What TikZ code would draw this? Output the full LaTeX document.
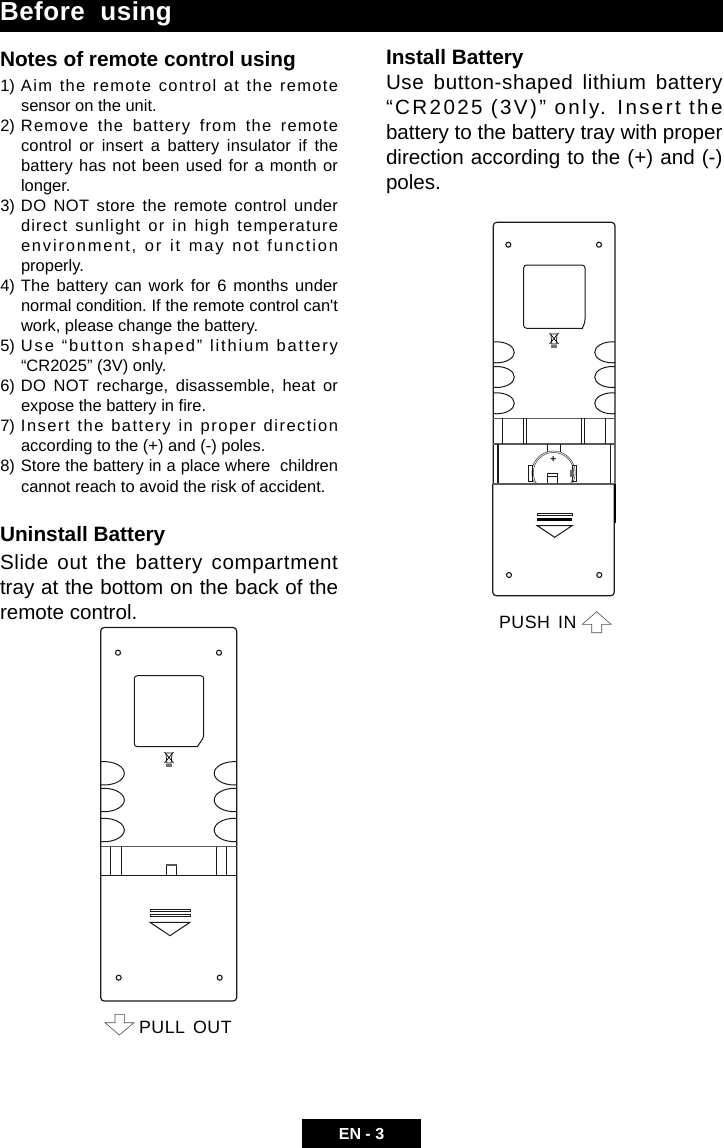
\documentclass[tikz,border=0pt]{standalone}
\usepackage{fontspec}
\setmainfont{Liberation Sans}[Ligatures=TeXOff]
\usetikzlibrary{positioning}

\newcommand{\fitline}[2]{\makebox[\hsize][s]{\addfontfeature{LetterSpace=#1}#2}\par}
\newcommand{\itemno}[1]{\llap{\makebox[20.7pt][l]{#1}}}

\begin{document}
\begin{tikzpicture}[
    x=1pt, y=-1pt,
    every node/.style={inner sep=0pt, outer sep=0pt, execute at begin node={\spaceskip=0pt \xspaceskip=0pt }},
    title/.style={anchor=north west, font=\bfseries\fontsize{20.8}{25}\selectfont},
    note/.style={anchor=north west, text width=317pt, font=\frenchspacing\fontsize{16.5}{20.05}\selectfont},
    lefttxt/.style={anchor=north west, text width=338pt, font=\fontsize{20.6}{25}\selectfont},
    righttxt/.style={anchor=north west, text width=336.5pt, font=\fontsize{20.6}{25}\selectfont},
    band/.style={fill=black, draw=none},
    body/.style={draw=black!90, line width=1.2pt, rounded corners=3.5pt},
    thin/.style={draw=black!90, line width=1pt},
    rail/.style={draw=black!65, line width=1.5pt},
    hole/.style={draw=black!90, line width=1.1pt, fill=white},
    hint/.style={anchor=base west},
    hollow/.style={draw=black!70, line width=.6pt, line join=miter}
]
\useasboundingbox (0,0) rectangle (723,1148);

% Header and footer
\fill[band] (0,0) rectangle (723,32);
\fill[band] (302,1119) rectangle (421,1148);
\node[anchor=base west, text=white, font=\bfseries\fontsize{26}{30}\selectfont\addfontfeature{LetterSpace=2}] (head) at (0,21) {Before\ \ using};
\node[text=white, font=\bfseries\fontsize{16}{20}\selectfont] (foot) at (361.5,1134) {EN - 3};

% Left column
\node[title] (notes) at (0,51) {Notes of remote control using};
\node[note] (note1) at (21,77) {\strut\itemno{1)}\fitline{8}{Aim the remote control at the remote}sensor on the unit.\strut\par};
\node[note, below=0pt of note1] (note2) {\strut\itemno{2)}\fitline{7}{Remove the battery from the remote}\fitline{1.2}{control or insert a battery insulator if the}\fitline{1.5}{battery has not been used for a month or}longer.\strut\par};
\node[note, below=0pt of note2] (note3) {\strut\itemno{3)}\fitline{2.5}{DO NOT store the remote control under}\fitline{7}{direct sunlight or in high temperature}\fitline{11}{environment, or it may not function}properly.\strut\par};
\node[note, below=0pt of note3] (note4) {\strut\itemno{4)}\fitline{1}{The battery can work for 6 months under}\fitline{0}{normal condition. If the remote control can't}work, please change the battery.\strut\par};
\node[note, below=0pt of note4] (note5) {\strut\itemno{5)}\fitline{11}{Use “button shaped” lithium battery}“CR2025” (3V) only.\strut\par};
\node[note, below=0pt of note5] (note6) {\strut\itemno{6)}\fitline{1.5}{DO NOT recharge, disassemble, heat or}expose the battery in fire.\strut\par};
\node[note, below=0pt of note6] (note7) {\strut\itemno{7)}\fitline{9}{Insert the battery in proper direction}according to the (+) and (-) poles.\strut\par};
\node[note, below=0pt of note7] (note8) {\strut\itemno{8)}\fitline{0}{Store the battery in a place where\ \ children}cannot reach to avoid the risk of accident.\strut\par};

\node[title] (uninstall) at (0,526) {Uninstall Battery};
\node[lefttxt] (slide) at (0,552) {\strut\fitline{3}{Slide out the battery compartment}\fitline{0}{tray at the bottom on the back of the}remote control.\strut\par};

% Right column
\node[title] (install) at (386,49) {Install Battery};
\node[righttxt] (usetxt) at (386,72) {\strut\fitline{3}{Use button-shaped lithium battery}\fitline{11.5}{“CR2025 (3V)” only. Insert the}\fitline{0}{battery to the battery tray with proper}\fitline{0}{direction according to the (+) and (-)}poles.\strut\par};

% Remote, tray pulled out
\draw[body] (100.7,875.3) -- (100.7,627.5) -- (236.7,627.5) -- (236.7,875.3);
\draw[body] (100.7,875.3) -- (100.7,1001) -- (236.7,1001) -- (236.7,875.3);
\draw[thin, rounded corners=3pt] (134.3,675.7) -- (203.7,675.7) -- (203.7,737.3) [sharp corners] -- (197.3,746.7) [rounded corners=3pt] -- (134.3,746.7) -- cycle;
\foreach \px/\py in {118/652.7, 219/652.7, 118.7/977.7, 219.7/977.7}
    \draw[hole] (\px,\py) circle (2.5);
\begin{scope}
    \clip (100.7,750) rectangle (236.7,846.7);
    \foreach \py in {773.3, 800, 830} {
        \draw[thin] (104,\py) ellipse (20.3 and 11.7);
        \draw[thin] (234.5,\py) ellipse (20.3 and 11.7);
    }
\end{scope}
\draw[rail] (100.7,846.7) -- (236.7,846.7);
\foreach \px in {110.7, 121.3, 216, 226.7}
    \draw[thin] (\px,846.7) -- (\px,875.3);
\draw[thin] (100.7,875.3) -- (236.7,875.3);
\draw[thin, fill=white] (166,864) rectangle (176.7,875.3);
\draw[rail] (166,865) -- (176.7,865);
\draw[thin] (150,909.3) rectangle (190,911.7);
\draw[thin] (150,914.2) rectangle (190,916.6);
\draw[thin] (150,922.3) -- (190,922.3) -- (170,935.7) -- cycle;

% Waste bin mark
\begin{scope}[shift={(169,759)}]
    \draw[line width=.7pt] (-4.5,-7) -- (4.5,4) (4.5,-7) -- (-4.5,4);
    \draw[line width=.7pt] (-3.5,-6) -- (3.5,-6) (-3,-5) -- (-2.2,4) -- (2.2,4) -- (3,-5);
    \fill[black!55] (-3,4.5) rectangle (3,8);
\end{scope}

\draw[hollow] (105,1022.7) -- (115,1022.7) -- (115,1014.3) -- (124.3,1014.3) -- (124.3,1022.7) -- (134,1022.7) -- (119.3,1035) -- cycle;
\node[hint, font=\fontsize{17.8}{20}\selectfont\addfontfeature{LetterSpace=3}] (pull) at (139,1033.2) {PULL\hspace{8pt}OUT};

% Remote, tray pushed in
\draw[body] (493.3,484) -- (493.3,222.3) -- (615,222.3) -- (615,484);
\draw[body] (492.7,484) -- (492.7,595.7) -- (614.3,595.7) -- (614.3,484);
\draw[thin, rounded corners=3pt] (523.7,265) -- (585,265) -- (585,322.3) [sharp corners] -- (582.3,328.3) [rounded corners=3pt] -- (523.7,328.3) -- cycle;
\foreach \px/\py in {508.3/244.7, 599/244.7, 509/575, 599.3/575}
    \draw[hole] (\px,\py) circle (2.5);
\begin{scope}
    \clip (493.3,335) rectangle (615,418.3);
    \foreach \py in {352.3, 377, 403.3} {
        \draw[thin] (496.5,\py) ellipse (17.8 and 10.5);
        \draw[thin] (612.5,\py) ellipse (17.8 and 10.5);
    }
\end{scope}
\draw[rail] (493.3,418.3) -- (615,418.3);
\draw[rail] (493.3,444) -- (615,444);
\foreach \px in {502.7, 523.3, 526.3, 581.7, 584.3, 605.7}
    \draw[thin] (\px,418.3) -- (\px,444);
\foreach \px in {497, 498.7, 610.5}
    \draw[thin] (\px,444) -- (\px,484);

% Coin cell
\draw[thin] (547.7,444) -- (547.7,452) (560.3,444) -- (560.3,452);
\begin{scope}
    \clip (525,440) rectangle (582,484);
    \draw[draw=black!70, line width=.6pt] (553.5,472.7) circle (21.7);
    \draw[draw=black!70, line width=.6pt] (553.5,472.7) circle (20.2);
\end{scope}
\draw[thin] (528.3,465.7) rectangle (532.3,481.7);
\draw[thin] (572,465.7) rectangle (576.7,481.7);
\fill[black!60] (570,469.5) rectangle (573,477);
\node[font=\bfseries\fontsize{10}{10}\selectfont] (plus) at (553.3,459.3) {+};
\draw[thin] (547.3,473.3) rectangle (557.3,484);
\draw[thin] (547.3,476) -- (557.3,476);
\draw[rail] (492.7,484) -- (614.3,484);
\draw[black, line width=1.2pt] (615,484) -- (615,523);
\draw[thin] (537.3,513) rectangle (572,515.4);
\fill[black] (537.3,518) rectangle (572,520.8);
\draw[thin] (537.3,525.7) -- (572,525.7) -- (554.7,537.3) -- cycle;

% Waste bin mark
\begin{scope}[shift={(554,340)}]
    \draw[line width=.7pt] (-4.5,-7) -- (4.5,4) (4.5,-7) -- (-4.5,4);
    \draw[line width=.7pt] (-3.5,-6) -- (3.5,-6) (-3,-5) -- (-2.2,4) -- (2.2,4) -- (3,-5);
    \fill[black!55] (-3,4.5) rectangle (3,8);
\end{scope}

\node[hint, font=\fontsize{17.8}{20}\selectfont\addfontfeature{LetterSpace=3}] (push) at (499,628.3) {PUSH\hspace{8pt}IN};
\draw[hollow] (596.7,611.7) -- (611,624.3) -- (601.7,624.3) -- (601.7,632.7) -- (591.7,632.7) -- (591.7,624.3) -- (582.3,624.3) -- cycle;

\end{tikzpicture}
\end{document}
